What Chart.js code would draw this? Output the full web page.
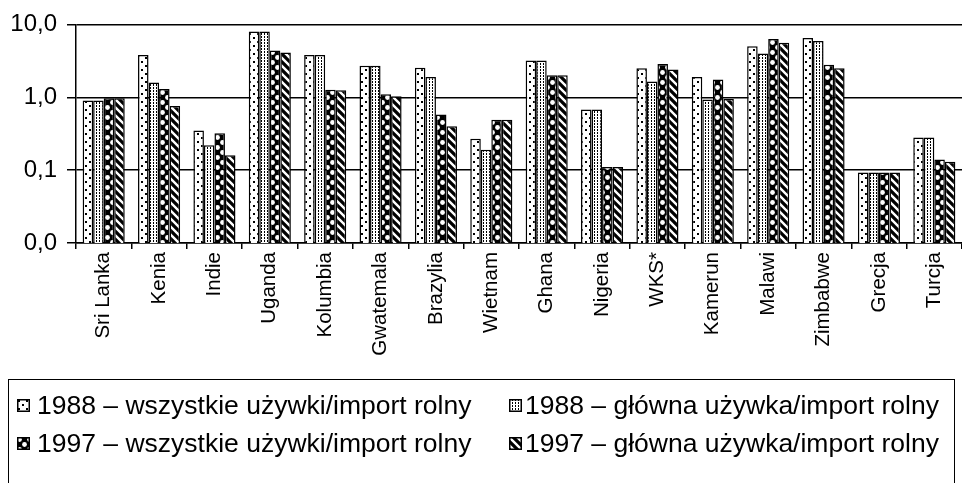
<!DOCTYPE html>
<html><head><meta charset="utf-8">
<script src="https://cdn.jsdelivr.net/npm/chart.js@4/dist/chart.umd.min.js"></script>
<style>
html,body{margin:0;padding:0;background:#fff;}
#wrap{position:relative;width:962px;height:483px;overflow:hidden;background:#fff;}
#c{position:absolute;left:0;top:0;}
#legend{position:absolute;left:8px;top:379px;width:947px;height:130px;border:1.5px solid #000;box-sizing:border-box;font-family:"Liberation Sans",Arial,sans-serif;font-size:26.5px;color:#000;}
.item{position:absolute;height:30px;white-space:nowrap;}
.item canvas{position:absolute;top:9px;display:block;}
.item span{position:absolute;top:0;line-height:30px;}
</style></head>
<body><div id="wrap"><canvas id="c" width="962" height="483"></canvas><div id="legend"></div></div>
<script>
const categories = ['Sri Lanka','Kenia','Indie','Uganda','Kolumbia','Gwatemala','Brazylia','Wietnam','Ghana','Nigeria','WKS*','Kamerun','Malawi','Zimbabwe','Grecja','Turcja'];
const seriesLabels = ['1988 – wszystkie używki/import rolny','1988 – główna używka/import rolny','1997 – wszystkie używki/import rolny','1997 – główna używka/import rolny'];
const all1988  = [0.90, 3.8, 0.35, 8.0, 3.8, 2.7, 2.55, 0.27, 3.2, 0.68, 2.5, 1.9, 5.0, 6.5, 0.093, 0.28];
const main1988 = [0.90, 1.6, 0.22, 8.0, 3.8, 2.7, 1.9, 0.19, 3.2, 0.68, 1.65, 0.93, 4.0, 5.9, 0.093, 0.28];
const all1997  = [0.97, 1.3, 0.32, 4.4, 1.27, 1.1, 0.58, 0.49, 2.0, 0.11, 2.85, 1.75, 6.3, 2.8, 0.093, 0.14];
const main1997 = [0.97, 0.76, 0.16, 4.1, 1.25, 1.03, 0.40, 0.49, 2.0, 0.11, 2.4, 0.95, 5.6, 2.5, 0.093, 0.13];
const yTickValues = [0.01, 0.1, 1, 10];

function tile(w,h,draw){const c=document.createElement('canvas');c.width=w;c.height=h;const x=c.getContext('2d');draw(x,w,h);return c;}
const tiles = [
  tile(8,8,(x)=>{x.fillStyle='#fff';x.fillRect(0,0,8,8);x.fillStyle='#000';x.fillRect(1,1,2,2);x.fillRect(5,5,2,2);}),
  tile(3,3,(x)=>{x.fillStyle='#fff';x.fillRect(0,0,3,3);x.fillStyle='#000';x.fillRect(0,0,1,2);}),
  tile(10,10,(x)=>{x.fillStyle='#000';x.fillRect(0,0,10,10);x.fillStyle='#fff';x.beginPath();x.arc(2.5,2.5,2.4,0,Math.PI*2);x.fill();x.beginPath();x.arc(7.5,7.5,2.4,0,Math.PI*2);x.fill();}),
  tile(8,8,(x)=>{x.fillStyle='#000';x.fillRect(0,0,8,8);x.strokeStyle='#fff';x.lineWidth=2.4;x.beginPath();x.moveTo(-4,-4);x.lineTo(12,12);x.moveTo(-4,4);x.lineTo(4,12);x.moveTo(4,-4);x.lineTo(12,4);x.stroke();})
];
const ctx = document.getElementById('c').getContext('2d');
const patterns = tiles.map(t=>ctx.createPattern(t,'repeat'));
const seriesData = [all1988, main1988, all1997, main1997];

new Chart(ctx, {
  type:'bar',
  data:{labels:categories, datasets: seriesData.map((d,i)=>({label:seriesLabels[i], data:d, backgroundColor:patterns[i], borderColor:'#000', borderWidth:1.5, categoryPercentage:0.76, barPercentage:1.0}))},
  options:{
    responsive:false, animation:false, devicePixelRatio:1,
    layout:{padding:{top:21,left:0,right:0,bottom:120}},
    plugins:{legend:{display:false}, tooltip:{enabled:false}},
    scales:{
      x:{
        grid:{display:true, drawOnChartArea:false, drawTicks:true, tickLength:6, color:'#000', lineWidth:1.5, offset:true},
        border:{display:true, color:'#000', width:1.5},
        ticks:{color:'#000', font:{family:'"Liberation Sans", Arial, sans-serif', size:20.5}, minRotation:90, maxRotation:90, padding:3, autoSkip:false},
        afterFit:(s)=>{s.height=120;}
      },
      y:{
        type:'logarithmic', min:0.01, max:10,
        afterBuildTicks:(s)=>{s.ticks = yTickValues.map(v=>({value:v}));},
        afterFit:(s)=>{s.width=76;},
        grid:{color:'#000', lineWidth:1.5, tickLength:9, drawTicks:true},
        border:{display:true, color:'#000', width:1.5},
        ticks:{color:'#000', padding:10, font:{family:'"Liberation Sans", Arial, sans-serif', size:24}, callback:(v)=>Number(v).toFixed(1).replace('.',',')}
      }
    }
  }
});

// HTML legend (positions relative to legend box)
const legendEl = document.getElementById('legend');
const rows = [10, 48];
const iconX = [8, 500], textX = [28, 516];
seriesLabels.forEach((lab,i)=>{
  const col = i % 2, row = Math.floor(i/2);
  const it=document.createElement('div'); it.className='item'; it.style.left='0px'; it.style.top=rows[row]+'px';
  const ic=document.createElement('canvas'); ic.width=13; ic.height=13; ic.style.left=iconX[col]+'px';
  const ix=ic.getContext('2d'); ix.fillStyle=ix.createPattern(tiles[i],'repeat'); ix.fillRect(0,0,13,13); ix.strokeStyle='#000'; ix.lineWidth=1.5; ix.strokeRect(0.75,0.75,11.5,11.5);
  const sp=document.createElement('span'); sp.textContent=lab; sp.style.left=textX[col]+'px';
  it.appendChild(ic); it.appendChild(sp); legendEl.appendChild(it);
});
</script></body></html>
